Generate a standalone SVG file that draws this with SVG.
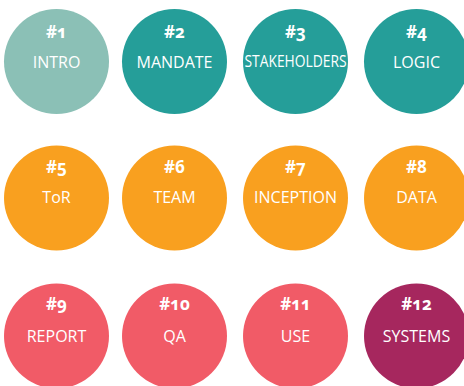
<svg xmlns="http://www.w3.org/2000/svg" width="464" height="386" viewBox="0 0 464 386">
<style>
text{font-family:"Open Sans","Noto Sans","DejaVu Sans",sans-serif;fill:#ffffff;text-anchor:middle}
.n{font-size:17px;font-weight:700;font-feature-settings:"onum"}
.l{font-size:16px}
.c1{fill:#8bc0b6}.c2{fill:#259e99}.c3{fill:#f9a01f}.c4{fill:#f15b67}.c5{fill:#a6275e}
</style>
<g id="node1"><circle class="c1" cx="56.5" cy="61.5" r="52.5"/><text class="n" x="56.5" y="38">#1</text><text class="l" x="56.5" y="68">INTRO</text></g>
<g id="node2"><circle class="c2" cx="174.5" cy="61.5" r="52.5"/><text class="n" x="174.5" y="38">#2</text><text class="l" x="174.5" y="68">MANDATE</text></g>
<g id="node3"><circle class="c2" cx="295.5" cy="61.5" r="52.5"/><text class="n" x="295.5" y="38">#3</text><text class="l" x="295.5" y="67" font-size="14" textLength="102" lengthAdjust="spacingAndGlyphs">STAKEHOLDERS</text></g>
<g id="node4"><circle class="c2" cx="416.5" cy="61.5" r="52.5"/><text class="n" x="416.5" y="38">#4</text><text class="l" x="416.5" y="68">LOGIC</text></g>
<g id="node5"><circle class="c3" cx="56.5" cy="198" r="52.5"/><text class="n" x="56.5" y="173">#5</text><text class="l" x="56.5" y="203">ToR</text></g>
<g id="node6"><circle class="c3" cx="174.5" cy="198" r="52.5"/><text class="n" x="174.5" y="173">#6</text><text class="l" x="174.5" y="203">TEAM</text></g>
<g id="node7"><circle class="c3" cx="295.5" cy="198" r="52.5"/><text class="n" x="295.5" y="173">#7</text><text class="l" x="295.5" y="203">INCEPTION</text></g>
<g id="node8"><circle class="c3" cx="416.5" cy="198" r="52.5"/><text class="n" x="416.5" y="173">#8</text><text class="l" x="416.5" y="203">DATA</text></g>
<g id="node9"><circle class="c4" cx="56.5" cy="336" r="52.5"/><text class="n" x="56.5" y="310">#9</text><text class="l" x="56.5" y="342">REPORT</text></g>
<g id="node10"><circle class="c4" cx="174.5" cy="336" r="52.5"/><text class="n" x="174.5" y="310">#10</text><text class="l" x="174.5" y="342">QA</text></g>
<g id="node11"><circle class="c4" cx="295.5" cy="336" r="52.5"/><text class="n" x="295.5" y="310">#11</text><text class="l" x="295.5" y="342">USE</text></g>
<g id="node12"><circle class="c5" cx="416.5" cy="336" r="52.5"/><text class="n" x="416.5" y="310">#12</text><text class="l" x="416.5" y="342">SYSTEMS</text></g>
<g id="connectors"/>
</svg>
